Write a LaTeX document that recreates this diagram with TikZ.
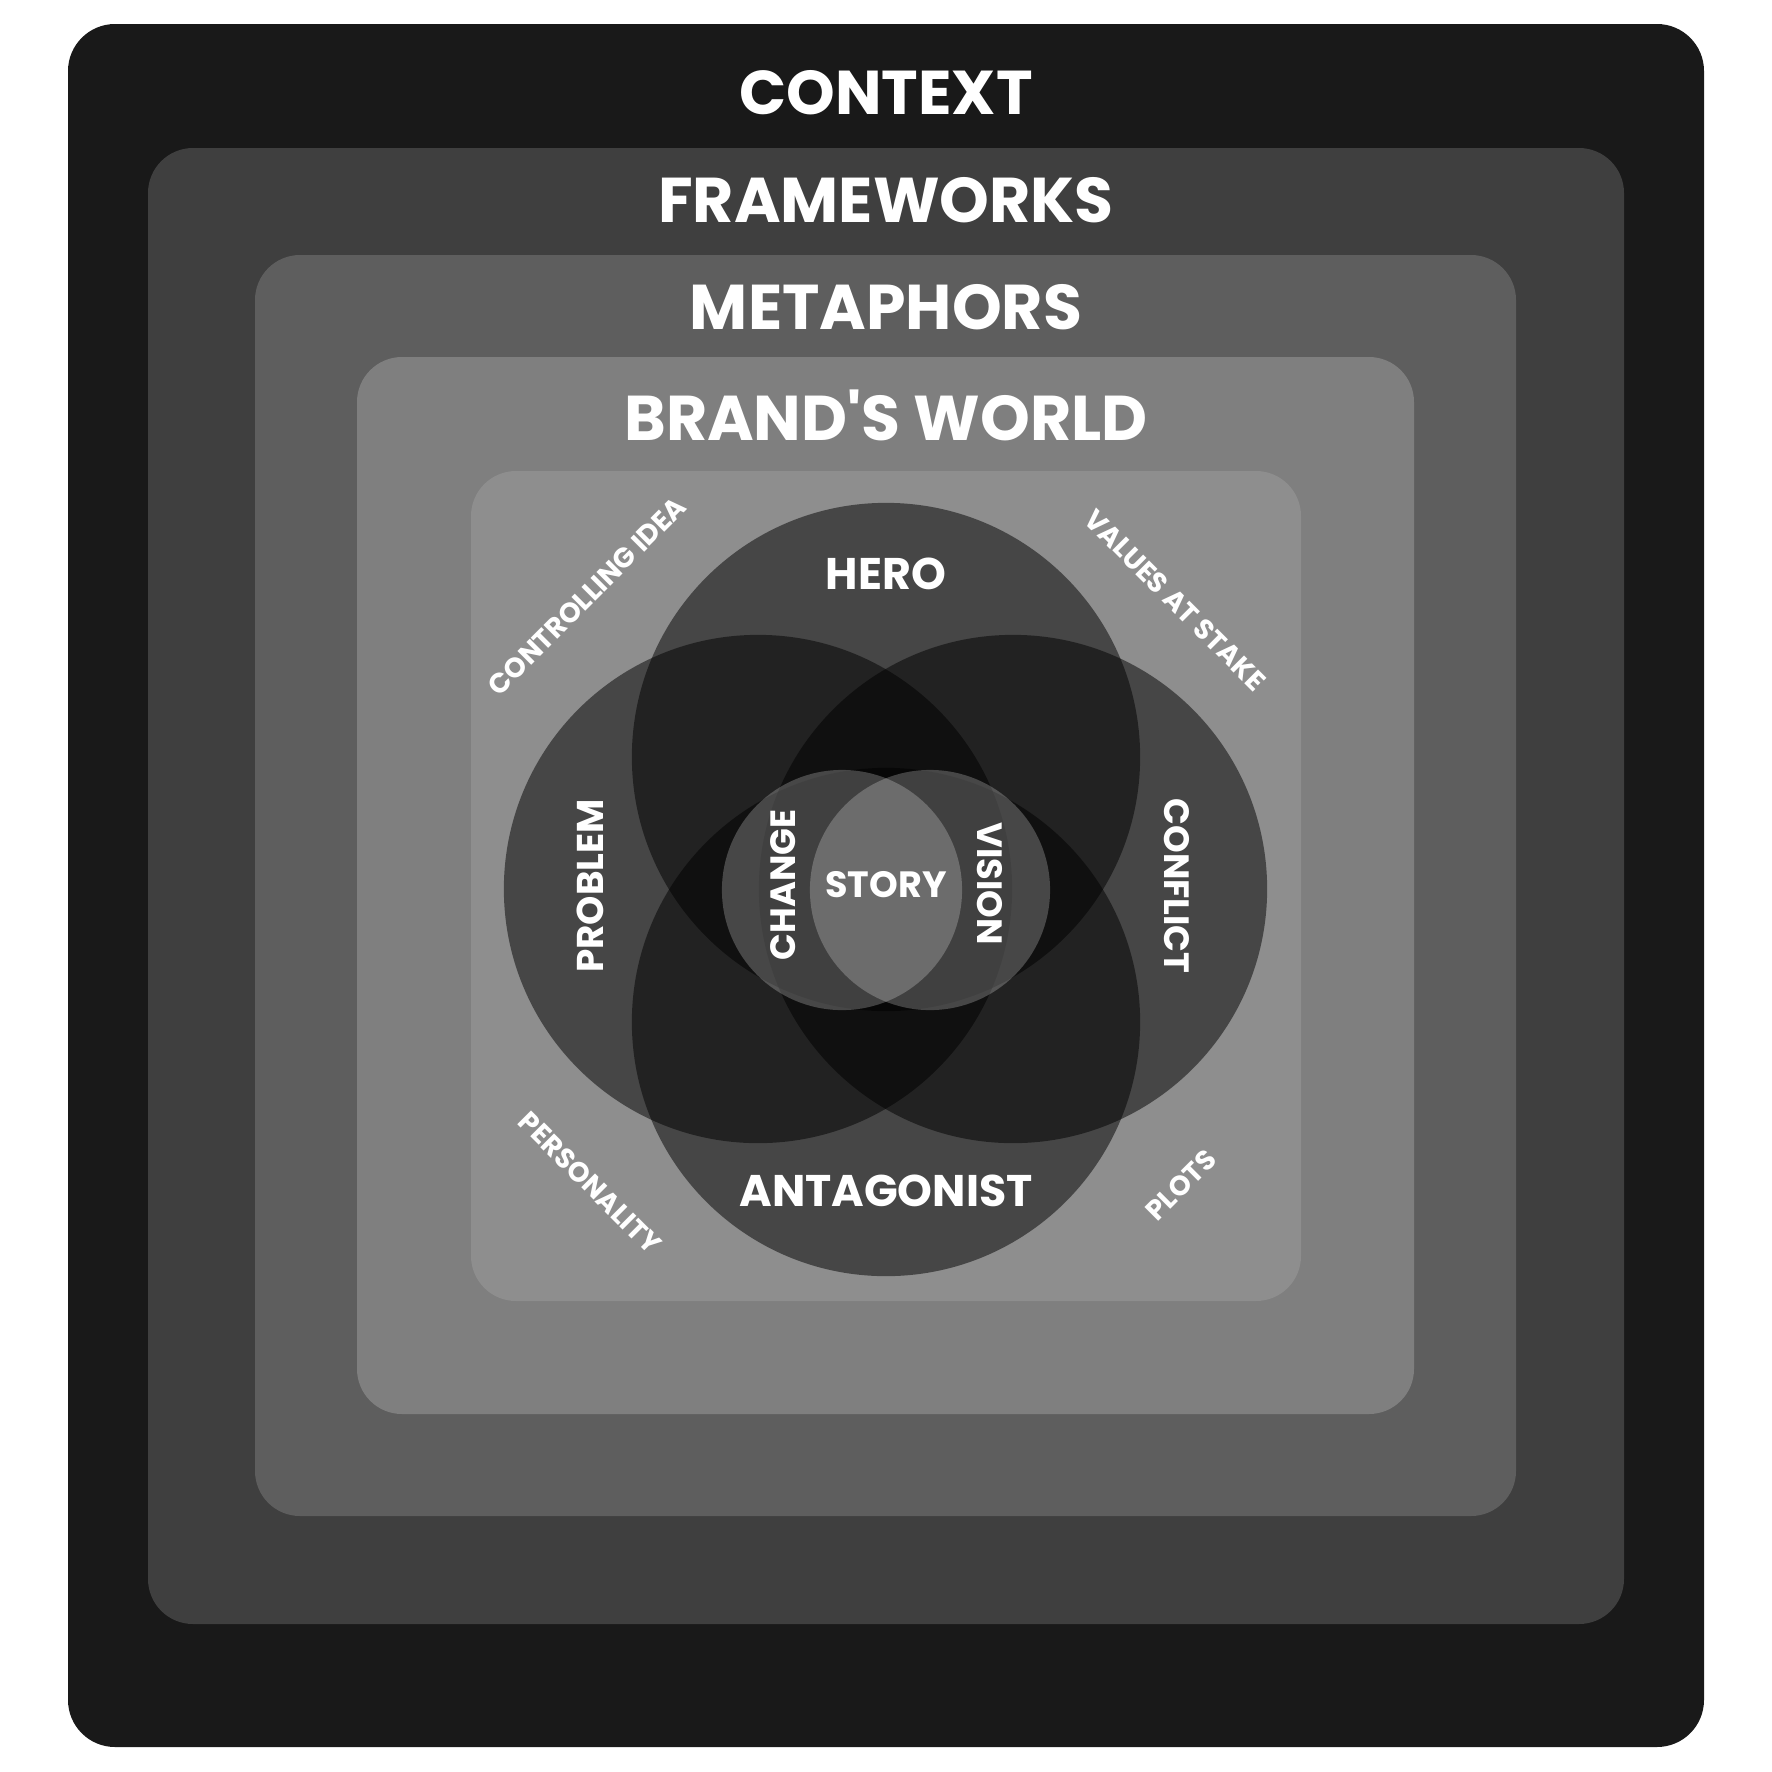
\documentclass[tikz,border=0pt]{standalone}
\usepackage{fontspec}
\setmainfont{Poppins}[Ligatures=TeXOff]
\definecolor{cA}{HTML}{191919}
\definecolor{cB}{HTML}{3F3F3F}
\definecolor{cC}{HTML}{5E5E5E}
\definecolor{cD}{HTML}{7F7F7F}
\definecolor{cE}{HTML}{8E8E8E}
\begin{document}
\begin{tikzpicture}[x=0.01cm,y=-0.01cm,
  lbl/.style={text=white, inner sep=0pt},
  biglbl/.style={lbl, font=\bfseries\fontsize{18}{21}\selectfont},
  midlbl/.style={lbl, font=\bfseries\fontsize{12.6}{15}\selectfont},
  venlbl/.style={lbl, font=\bfseries\fontsize{10}{12}\selectfont},
  smalllbl/.style={lbl, font=\bfseries\fontsize{7.9}{9}\selectfont},
  venn/.style={fill=black, fill opacity=0.5},
  core/.style={fill=white, fill opacity=0.23}]
\useasboundingbox (0,0) rectangle (1772,1772);
% layers
\fill[cA, rounded corners=0.47cm] (68,24) rectangle (1704,1747);
\fill[cB, rounded corners=0.45cm] (148,148) rectangle (1624,1624);
\fill[cC, rounded corners=0.45cm] (255,255) rectangle (1516,1516);
\fill[cD, rounded corners=0.45cm] (357,357) rectangle (1414,1414);
\fill[cE, rounded corners=0.45cm] (471,471) rectangle (1301,1301);
% venn circles
\fill[venn] (886,757) circle[radius=2.54cm];
\fill[venn] (758,889) circle[radius=2.54cm];
\fill[venn] (1013,889) circle[radius=2.54cm];
\fill[venn] (886,1022) circle[radius=2.54cm];
\fill[core] (842,890) circle[radius=1.2cm];
\fill[core] (930,890) circle[radius=1.2cm];
% labels
\node[biglbl, font=\bfseries\fontsize{17.6}{21}\selectfont] (context) at (886,93) {CONTEXT};
\node[biglbl] (frameworks) at (886,200) {FRAMEWORKS};
\node[biglbl] (metaphors) at (886,307) {METAPHORS};
\node[biglbl] (brand) at (886,415) {BRAND'S WORLD};
\node[midlbl] (hero) at (886,574) {HERO};
\node[midlbl] (antagonist) at (886,1191) {ANTAGONIST};
\node[venlbl, rotate=90, font=\bfseries\fontsize{10.6}{12}\selectfont] (problem) at (590,886) {PROBLEM};
\node[venlbl, rotate=-90] (conflict) at (1177,886) {CONFLICT};
\node[venlbl, rotate=90] (change) at (783,885) {CHANGE};
\node[venlbl, rotate=-90] (vision) at (990,884) {VISION};
\node[venlbl, font=\bfseries\fontsize{10.4}{12}\selectfont] (story) at (886,885) {STORY};
\node[smalllbl, rotate=45] (controlling) at (587,596) {CONTROLLING IDEA};
\node[smalllbl, rotate=-45] (values) at (1175,600) {VALUES AT STAKE};
\node[smalllbl, rotate=-45] (personality) at (590,1183) {PERSONALITY};
\node[smalllbl, rotate=45] (plots) at (1181,1185) {PLOTS};
\end{tikzpicture}
\end{document}
